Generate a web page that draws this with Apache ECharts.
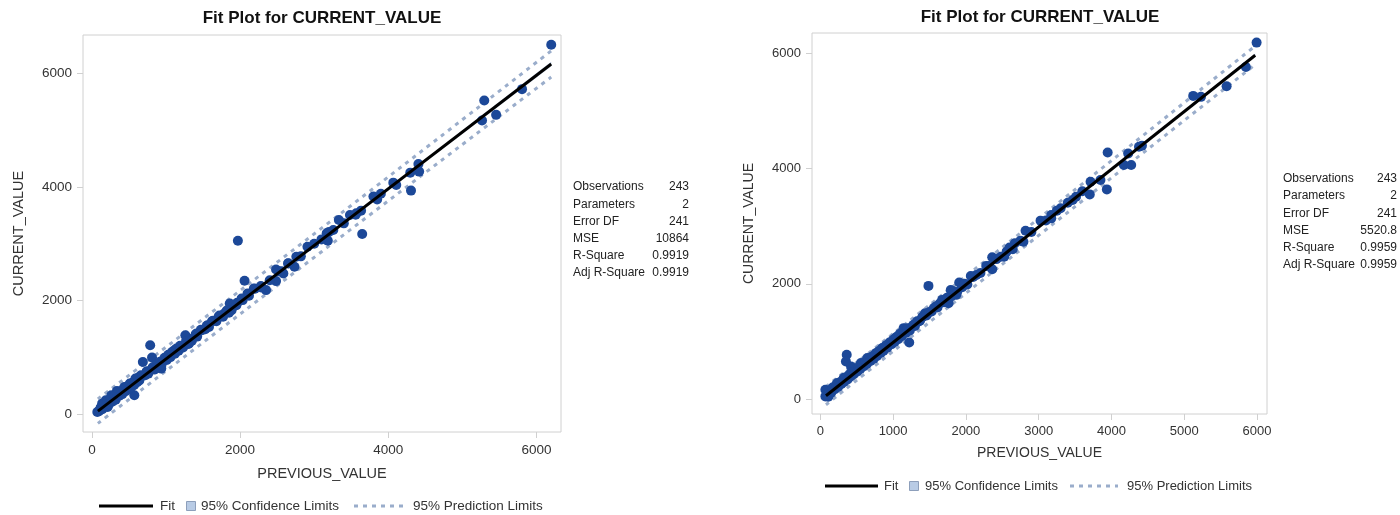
<!DOCTYPE html>
<html><head><meta charset="utf-8">
<script src="https://cdn.jsdelivr.net/npm/echarts@6/dist/echarts.min.js"></script>
<style>html,body{margin:0;padding:0;background:#fff}#c{width:1400px;height:515px}</style>
</head><body><div id="c"></div>
<script>
// ---------- Left panel data ----------
const leftPrev = [6200,5296,5456,5266,5806,4407,4417,4297,4307,4068,4108,3648,3633,3568,3483,3333,3258,3169,3184,3099,2909,2759,2734,2649,2584,2485,2485,1970,2060,2350,2285,2185,2100,2035,1960,1860,1885,1785,1710,1635,1561,1486,1411,1261,1311,1211,1111,1036,961,936,786,687,811,811,737,662,587,572,512,437,337,262,187,137,72,212,112,
  95,120,140,160,185,210,230,255,280,305,320,345,370,390,410,430,455,470,490,515,530,545,570,590,610,625,640,680,720,740,760,820,840,870,880,920,940,980,1010,1030,1060,1080,1120,1140,1170,1190,1230,1270,1300,1330,1350,1400,1420,1470,1530,1550,1580,1620,1680,1720,1770,1820,1850,1950,2020,2120,2200,2280,2400,2520,2560,2650,2820,3000,3200,3400,3560,3800,3850,3900];
const leftCurr = [6498,5518,5266,5167,5718,4404,4269,4251,3935,4075,4034,3172,3583,3536,3506,3418,3242,3184,3055,3078,2949,2773,2597,2656,2480,2550,2345,3055,2351,2187,2234,2216,2128,2011,1964,1952,1835,1776,1717,1647,1571,1483,1424,1395,1248,1189,1131,1043,955,808,1219,925,1002,808,749,691,632,339,544,485,415,339,251,192,45,133,104,
  60,130,95,170,150,230,180,280,230,330,260,360,330,410,360,450,410,490,440,540,480,560,520,600,570,650,600,680,690,760,720,830,790,880,830,930,880,1000,960,1050,1010,1100,1070,1160,1120,1210,1180,1290,1240,1330,1300,1410,1370,1490,1500,1560,1540,1640,1640,1740,1720,1830,1790,1920,2040,2090,2210,2260,2360,2520,2520,2660,2780,3000,3210,3360,3510,3830,3780,3880];
const leftFitX = [80, 6200];
const leftFitY = [60, 6160];
const leftBandX = [80, 3100, 6200];
const leftPredUpper = [275, 3275, 6390];
const leftPredLower = [-155, 2862, 5930];
const leftConfUpper = [92, 3082, 6200];
const leftConfLower = [28, 3054, 6120];
const leftXTicks = [0, 2000, 4000, 6000];
const leftYTicks = [0, 2000, 4000, 6000];
const leftStatLabels = ['Observations','Parameters','Error DF','MSE','R-Square','Adj R-Square'];
const leftStatValues = ['243','2','241','10864','0.9919','0.9919'];

// ---------- Right panel data ----------
const rightPrev = [5994,5847,5582,5123,5230,4419,4378,3948,4230,4171,4271,3937,3849,3713,3702,3514,3467,3302,3173,3173,3026,2820,2791,2673,2644,2526,2362,2362,2280,2144,2068,1909,1868,1792,1762,1674,1586,1486,1439,1410,1351,1263,1222,1145,1104,1028,969,851,763,646,558,422,363,352,322,234,175,70,70,499,
  90,110,130,150,170,200,220,245,270,290,310,330,350,375,400,420,440,460,480,510,530,550,575,600,620,640,665,690,710,735,760,780,800,830,850,870,900,920,950,980,1000,1020,1050,1070,1090,1120,1150,1180,1200,1230,1280,1300,1330,1370,1400,1460,1500,1530,1560,1610,1640,1700,1740,1800,1830,1880,1950,1980,2020,2100,2200,2320,2420,2480,2560,2600,2750,2900,3100,3250,3400,3600];
const rightCurr = [6190,5768,5433,5265,5248,4398,4381,4283,4265,4063,4063,3641,3803,3774,3554,3514,3456,3312,3196,3138,3098,2924,2733,2705,2601,2473,2462,2254,2312,2155,2138,2023,1809,1895,1664,1722,1606,1965,1491,1433,1346,1260,982,1231,1133,1057,971,884,797,711,624,566,768,653,364,277,190,161,46,508,
  80,40,130,110,200,170,250,210,290,260,330,300,380,340,430,390,470,430,510,480,560,520,600,570,650,610,690,660,740,700,780,750,830,800,880,840,930,890,980,950,1030,990,1080,1040,1130,1090,1170,1150,1230,1190,1290,1270,1350,1360,1420,1450,1510,1520,1580,1590,1660,1680,1760,1780,1870,1860,1940,2000,1990,2120,2190,2310,2430,2470,2560,2630,2750,2900,3100,3270,3410,3610];
const rightFitX = [78, 5975];
const rightFitY = [57, 5970];
const rightBandX = [78, 3000, 5975];
const rightPredUpper = [215, 3135, 6132];
const rightPredLower = [-100, 2841, 5808];
const rightConfUpper = [75, 2997, 6000];
const rightConfLower = [39, 2979, 5940];
const rightXTicks = [0, 1000, 2000, 3000, 4000, 5000, 6000];
const rightYTicks = [0, 2000, 4000, 6000];
const rightStatLabels = ['Observations','Parameters','Error DF','MSE','R-Square','Adj R-Square'];
const rightStatValues = ['243','2','241','5520.8','0.9959','0.9959'];

const legendNames = ['Fit', '95% Confidence Limits', '95% Prediction Limits'];

// ---------- Styles ----------
const FONT = '"Liberation Sans", Arial, sans-serif';
const MARKER = '#1c4898';
const PRED = '#9aadcb';
const CONF = '#b8cbe5';
const FRAME = '#d0d0d0';
const TXT = '#333333';

function zip(a, b) { return a.map((v, i) => [v, b[i]]); }

function bandSeries(idx, xs, up, lo) {
  return {
    type: 'custom', xAxisIndex: idx, yAxisIndex: idx, silent: true, z: 1,
    data: xs.map((x, i) => [x, up[i], lo[i]]),
    encode: { x: 0, y: [1, 2] },
    renderItem: function (params, api) {
      if (params.dataIndex !== 0) return;
      const pts = [];
      for (let i = 0; i < xs.length; i++) pts.push(api.coord([xs[i], up[i]]));
      for (let i = xs.length - 1; i >= 0; i--) pts.push(api.coord([xs[i], lo[i]]));
      return { type: 'polygon', shape: { points: pts }, style: { fill: CONF } };
    }
  };
}

function axisCommon(idx, min, max, ticks, fs, gap, name) {
  return {
    type: 'value', gridIndex: idx, min: min, max: max,
    axisLine: { show: false, onZero: false },
    splitLine: { show: false },
    axisTick: { show: true, inside: false, length: 6, lineStyle: { color: FRAME }, customValues: ticks },
    axisLabel: { customValues: ticks, margin: 11, fontSize: fs, color: TXT, fontFamily: FONT,
      formatter: function (v) { return String(v); } },
    name: name, nameLocation: 'middle', nameGap: gap,
    nameTextStyle: { fontSize: fs + 1, color: TXT, fontFamily: FONT }
  };
}

function panelSeries(idx, prev, curr, fitX, fitY, bandX, pu, pl, cu, cl) {
  return [
    bandSeries(idx, bandX, cu, cl),
    { name: legendNames[2], type: 'line', xAxisIndex: idx, yAxisIndex: idx, data: zip(bandX, pu), symbol: 'none', smooth: true, z: 2,
      lineStyle: { color: PRED, width: 3, type: [4, 5] } },
    { name: legendNames[2], type: 'line', xAxisIndex: idx, yAxisIndex: idx, data: zip(bandX, pl), symbol: 'none', smooth: true, z: 2,
      lineStyle: { color: PRED, width: 3, type: [4, 5] } },
    { type: 'scatter', xAxisIndex: idx, yAxisIndex: idx, data: zip(prev, curr), symbolSize: 10, z: 3,
      itemStyle: { color: MARKER, opacity: 1 } },
    { name: legendNames[0], type: 'line', xAxisIndex: idx, yAxisIndex: idx, data: zip(fitX, fitY), symbol: 'none', z: 4,
      lineStyle: { color: '#000', width: 3 } }
  ];
}

function statsGraphics(labels, values, xl, xr, y0, dy, fs) {
  const g = [];
  labels.forEach((l, i) => {
    g.push({ type: 'text', x: xl, y: y0 + i * dy, style: { text: l, font: fs + 'px ' + FONT, fill: '#222', textAlign: 'left', textVerticalAlign: 'middle' } });
    g.push({ type: 'text', x: xr, y: y0 + i * dy, style: { text: values[i], font: fs + 'px ' + FONT, fill: '#222', textAlign: 'right', textVerticalAlign: 'middle' } });
  });
  return g;
}

function legendGraphics(y, lx0, lx1, fitTx, boxX, confTx, dx0, dx1, predTx, fs) {
  const f = fs + 'px ' + FONT;
  return [
    { type: 'line', shape: { x1: lx0, y1: y, x2: lx1, y2: y }, style: { stroke: '#000', lineWidth: 3 } },
    { type: 'text', x: fitTx, y: y, style: { text: legendNames[0], font: f, fill: TXT, textVerticalAlign: 'middle' } },
    { type: 'rect', shape: { x: boxX + 0.5, y: y - 4.5, width: 9, height: 9 }, style: { fill: CONF, stroke: '#8d9fbb', lineWidth: 1 } },
    { type: 'text', x: confTx, y: y, style: { text: legendNames[1], font: f, fill: TXT, textVerticalAlign: 'middle' } },
    { type: 'line', shape: { x1: dx0, y1: y, x2: dx1, y2: y }, style: { stroke: PRED, lineWidth: 3, lineDash: [4, 5] } },
    { type: 'text', x: predTx, y: y, style: { text: legendNames[2], font: f, fill: TXT, textVerticalAlign: 'middle' } }
  ];
}

const chart = echarts.init(document.getElementById('c'), null, { renderer: 'canvas' });
chart.setOption({
  backgroundColor: '#fff',
  animation: false,
  title: [
    { text: 'Fit Plot for CURRENT_VALUE', left: 317, top: 5, textAlign: 'center',
      textStyle: { fontSize: 17, fontWeight: 'bold', color: '#111', fontFamily: FONT } },
    { text: 'Fit Plot for CURRENT_VALUE', left: 1035, top: 4, textAlign: 'center',
      textStyle: { fontSize: 17, fontWeight: 'bold', color: '#111', fontFamily: FONT } }
  ],
  grid: [
    { left: 83, top: 35, width: 478, height: 397, show: true, borderColor: FRAME, borderWidth: 1, backgroundColor: '#fff' },
    { left: 812, top: 33, width: 455, height: 381, show: true, borderColor: FRAME, borderWidth: 1, backgroundColor: '#fff' }
  ],
  xAxis: [
    axisCommon(0, -121, 6332, leftXTicks, 13.5, 34, 'PREVIOUS_VALUE'),
    axisCommon(1, -114, 6137, rightXTicks, 13, 32, 'PREVIOUS_VALUE')
  ],
  yAxis: [
    axisCommon(0, -306, 6669, leftYTicks, 13.5, 57, 'CURRENT_VALUE'),
    axisCommon(1, -260, 6357, rightYTicks, 13, 56, 'CURRENT_VALUE')
  ],
  series: [].concat(
    panelSeries(0, leftPrev, leftCurr, leftFitX, leftFitY, leftBandX, leftPredUpper, leftPredLower, leftConfUpper, leftConfLower),
    panelSeries(1, rightPrev, rightCurr, rightFitX, rightFitY, rightBandX, rightPredUpper, rightPredLower, rightConfUpper, rightConfLower)
  ),
  graphic: [].concat(
    statsGraphics(leftStatLabels, leftStatValues, 573, 689, 187, 17.2, 12),
    statsGraphics(rightStatLabels, rightStatValues, 1283, 1397, 179, 17.1, 12),
    legendGraphics(506, 99, 153, 160, 186, 201, 354, 404, 413, 13.5),
    legendGraphics(486, 825, 878, 884, 909, 925, 1070, 1118, 1127, 13)
  )
});
</script></body></html>
